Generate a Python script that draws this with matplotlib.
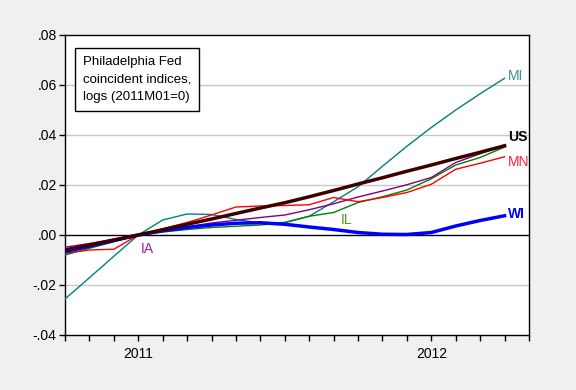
import matplotlib
matplotlib.use('Agg')
import matplotlib.pyplot as plt

# months from 2010M10 to 2012M04, index 0 = 2011M01
months = list(range(-3, 16))

us = [-0.0060, -0.0040, -0.0020, 0.0, 0.0021, 0.0043, 0.0064, 0.0086, 0.0108, 0.0129,
      0.0153, 0.0178, 0.0204, 0.0229, 0.0255, 0.0280, 0.0306, 0.0331, 0.0357]
mi = [-0.0256, -0.0171, -0.0085, 0.0, 0.0060, 0.0084, 0.0082, 0.0062, 0.0048, 0.0050,
      0.0075, 0.0133, 0.0193, 0.0275, 0.0355, 0.0430, 0.0500, 0.0565, 0.0627]
mn = [-0.0073, -0.0060, -0.0057, 0.0, 0.0025, 0.0050, 0.0080, 0.0112, 0.0116, 0.0118,
      0.0121, 0.0150, 0.0133, 0.0150, 0.0170, 0.0203, 0.0263, 0.0287, 0.0313]
wi = [-0.0067, -0.0045, -0.0022, 0.0, 0.0017, 0.0030, 0.0040, 0.0047, 0.0049, 0.0043,
      0.0032, 0.0022, 0.0010, 0.0003, 0.0002, 0.0010, 0.0036, 0.0058, 0.0077]
il = [-0.0080, -0.0053, -0.0027, 0.0, 0.0012, 0.0022, 0.0030, 0.0035, 0.0040, 0.0050,
      0.0075, 0.0090, 0.0130, 0.0153, 0.0180, 0.0225, 0.0280, 0.0310, 0.0352]
ia = [-0.0049, -0.0034, -0.0017, 0.0, 0.0017, 0.0033, 0.0048, 0.0059, 0.0070, 0.0080,
      0.0101, 0.0125, 0.0152, 0.0176, 0.0201, 0.0230, 0.0290, 0.0325, 0.0360]

yticks = [-0.04, -0.02, 0.0, 0.02, 0.04, 0.06, 0.08]
ytick_labels = ['-.04', '-.02', '.00', '.02', '.04', '.06', '.08']
xtick_pos = list(range(-3, 17))
xtick_labels = {0: '2011', 12: '2012'}

plt.rcParams['font.family'] = ['Liberation Sans', 'DejaVu Sans']

fig = plt.figure(figsize=(5.76, 3.9), dpi=100, facecolor='#f0f0f0')
ax = fig.add_axes([65 / 576, 1 - 335 / 390, 464 / 576, 300 / 390])
ax.set_facecolor('white')

for y in yticks[1:-1]:
    if y != 0.0:
        ax.axhline(y, color='#c8c8c8', lw=1, zorder=1)
ax.axhline(0, color='black', lw=1, zorder=2)

ax.plot(months, mi, color='#008080', lw=1, zorder=3)
ax.plot(months, il, color='#008000', lw=1, zorder=3)
ax.plot(months, ia, color='#800080', lw=1, zorder=3)
ax.plot(months, mn, color='#ff0000', lw=1, zorder=3)
ax.plot(months, wi, color='#0000ff', lw=2.5, zorder=4)
ax.plot(months, us, color='#3c0000', lw=2.5, zorder=5)

ax.set_xlim(-3, 16)
ax.set_ylim(-0.04, 0.08)
ax.set_yticks(yticks)
ax.set_yticklabels(ytick_labels, fontsize=10)
ax.set_xticks(xtick_pos)
ax.set_xticklabels([xtick_labels.get(p, '') for p in xtick_pos], fontsize=10)
ax.tick_params(axis='x', direction='out', length=4, width=1, pad=5)
ax.tick_params(axis='y', direction='out', length=4, width=1, pad=2)
for s in ax.spines.values():
    s.set_linewidth(1)

ax.text(15.15, 0.0636, 'MI', color='#3a8f8f', fontsize=10, va='center')
ax.text(15.15, 0.0393, 'US', color='black', fontsize=10, fontweight='bold', va='center')
ax.text(15.15, 0.0292, 'MN', color='#ff2040', fontsize=10, va='center')
ax.text(15.15, 0.0084, 'WI', color='#0000ff', fontsize=10, fontweight='bold', va='center')
ax.text(8.3, 0.006, 'IL', color='#4a9a20', fontsize=10, va='center')
ax.text(0.1, -0.0057, 'IA', color='#a020a0', fontsize=10, va='center')

ax.text(18 / 464, 1 - 21 / 300, 'Philadelphia Fed\ncoincident indices,\nlogs (2011M01=0)',
        transform=ax.transAxes, fontsize=9.5, va='top', ha='left', linespacing=1.6,
        bbox=dict(boxstyle='square,pad=0.6', facecolor='white', edgecolor='black', lw=1))

fig.savefig('out.png', dpi=100, facecolor=fig.get_facecolor())
